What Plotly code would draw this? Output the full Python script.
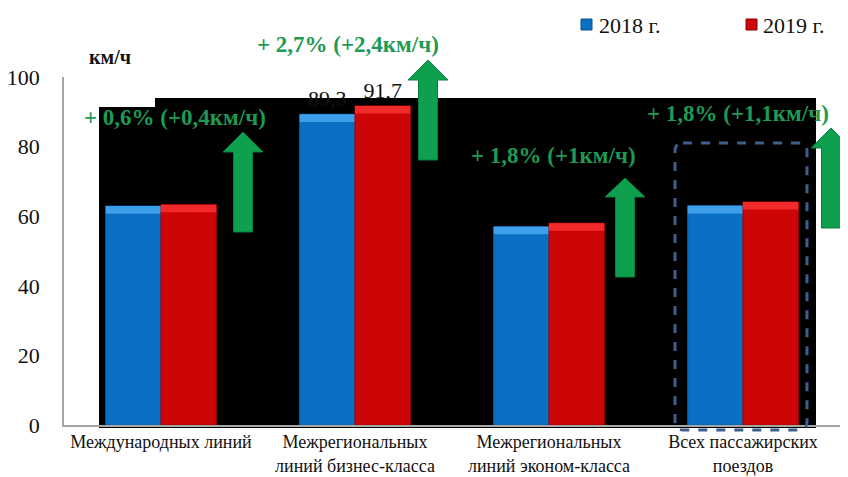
import plotly.graph_objects as go

categories = ['Международных линий',
              'Межрегиональных<br>линий бизнес-класса',
              'Межрегиональных<br>линий эконом-класса',
              'Всех пассажирских<br>поездов']
v2018 = [62.9, 89.3, 57.0, 63.0]
v2019 = [63.3, 91.7, 58.0, 64.1]
labels2018 = ['', '89,3', '', '']
labels2019 = ['', '91,7', '', '']
series_names = ['2018 г.', '2019 г.']
growth_texts = ['+ 0,6% (+0,4км/ч)', '+ 2,7% (+2,4км/ч)', '+ 1,8% (+1км/ч)', '+ 1,8% (+1,1км/ч)']
y_ticks = [0, 20, 40, 60, 80, 100]

# page body has an 8px margin: the figure starts at (8, 8) in the window
OFF = 8
WIN_W, WIN_H = 848, 477
W, H = WIN_W - OFF, WIN_H - OFF
# plot area in window pixels: x 64..840, y 77..425
PX0, PX1, PY0, PY1 = 64, 840, 77, 425
L, R, T, B = PX0 - OFF, W - (PX1 - OFF), PY0 - OFF, H - (PY1 - OFF)
PW, PH = PX1 - PX0, PY1 - PY0


def px(x):
    return (x - PX0) / PW


def py(y):
    return (PY1 - y) / PH


SERIF = 'Liberation Serif, Times New Roman, serif'
BLUE = '#0A70C4'
RED = '#CC0606'
BLUE_TOP = '#3D9EEB'
RED_TOP = '#F02A2A'
GREEN = '#0FA04F'
TXTGREEN = '#1E9A55'
BEVEL = 2.2  # bevel strip height in axis units (visual effect only)

fig = go.Figure()
for vals, labels, name, col, top, lc, grp in [
        (v2018, labels2018, series_names[0], BLUE, BLUE_TOP, '#0860A8', 'a'),
        (v2019, labels2019, series_names[1], RED, RED_TOP, '#A80000', 'b')]:
    fig.add_trace(go.Bar(x=categories, y=vals, name=name, offsetgroup=grp,
                         marker=dict(color=col, line=dict(color=lc, width=1)),
                         text=labels, textposition='outside', cliponaxis=False,
                         textfont=dict(family=SERIF, size=22, color='#111')))
    fig.add_trace(go.Bar(x=categories, y=[BEVEL] * len(vals), base=[v - BEVEL for v in vals],
                         offsetgroup=grp, showlegend=False, hoverinfo='skip',
                         marker=dict(color=top, line=dict(width=0))))

shapes = []
# black backdrop
pts = [(99, 428), (99, 107), (155, 107), (155, 98), (816, 98), (816, 428)]
path = 'M ' + ' L '.join(f'{px(a):.5f},{py(b):.5f}' for a, b in pts) + ' Z'
shapes.append(dict(type='path', xref='paper', yref='paper', path=path, fillcolor='black',
                   line=dict(width=0), layer='below'))


def arrow(cx, tip, base, bottom, sw=19, hw=40):
    p = [(cx - sw / 2, bottom), (cx - sw / 2, base), (cx - hw / 2, base), (cx, tip),
         (cx + hw / 2, base), (cx + sw / 2, base), (cx + sw / 2, bottom)]
    return dict(type='path', xref='paper', yref='paper',
                path='M ' + ' L '.join(f'{px(a):.5f},{py(b):.5f}' for a, b in p) + ' Z',
                fillcolor=GREEN, line=dict(color='#08803C', width=1), layer='above')


for a in [(243, 132, 152, 232), (428, 60, 80, 160), (625, 178, 197, 277), (831, 128, 148, 228)]:
    shapes.append(arrow(*a))

# dashed rounded rectangle
x0, x1, y0, y1, r = 675, 807, 143, 430, 8
rp = (f'M {px(x0 + r)},{py(y0)} L {px(x1 - r)},{py(y0)} Q {px(x1)},{py(y0)} {px(x1)},{py(y0 + r)} '
      f'L {px(x1)},{py(y1 - r)} Q {px(x1)},{py(y1)} {px(x1 - r)},{py(y1)} '
      f'L {px(x0 + r)},{py(y1)} Q {px(x0)},{py(y1)} {px(x0)},{py(y1 - r)} '
      f'L {px(x0)},{py(y0 + r)} Q {px(x0)},{py(y0)} {px(x0 + r)},{py(y0)} Z')
shapes.append(dict(type='path', xref='paper', yref='paper', path=rp,
                   line=dict(color='#3F5E8C', width=3, dash='dash'), layer='above'))

# legend squares
shapes.append(dict(type='rect', xref='paper', yref='paper', x0=px(581), x1=px(592), y0=py(30), y1=py(19),
                   fillcolor=BLUE, line=dict(color='#084E8A', width=1)))
shapes.append(dict(type='rect', xref='paper', yref='paper', x0=px(746), x1=px(757), y0=py(30), y1=py(19),
                   fillcolor=RED, line=dict(color='#8A0000', width=1)))

annotations = []
for txt, (x, y) in zip(growth_texts, [(175, 117), (348, 45), (553, 155), (738, 113)]):
    annotations.append(dict(text=f'<b>{txt}</b>', x=px(x), y=py(y), xref='paper', yref='paper',
                            showarrow=False, xanchor='center', yanchor='middle',
                            font=dict(family=SERIF, size=23, color=TXTGREEN)))
for txt, x in zip(series_names, [597, 761]):
    annotations.append(dict(text=txt, x=px(x), y=py(25), xref='paper', yref='paper', showarrow=False,
                            xanchor='left', yanchor='middle', font=dict(family=SERIF, size=22, color='#111')))
annotations.append(dict(text='<b>км/ч</b>', x=px(110), y=py(57), xref='paper', yref='paper', showarrow=False,
                        xanchor='center', yanchor='middle', font=dict(family=SERIF, size=20, color='#111')))

fig.update_layout(
    width=W, height=H, margin=dict(l=L, r=R, t=T, b=B, pad=0, autoexpand=False),
    paper_bgcolor='white', plot_bgcolor='rgba(0,0,0,0)',
    barmode='group', bargap=0.43, bargroupgap=0,
    showlegend=False, shapes=shapes, annotations=annotations,
    font=dict(family=SERIF, color='#111'),
    xaxis=dict(showgrid=False, showline=True, linecolor='#A6A6A6', linewidth=1.5, automargin=False,
               tickfont=dict(family=SERIF, size=18, color='#111'), ticks=''),
    yaxis=dict(range=[0, 100], tickvals=y_ticks, showgrid=False, showline=True, linecolor='#A6A6A6',
               linewidth=1.5, zeroline=False, ticks='', ticklabelstandoff=18, automargin=False,
               tickfont=dict(family=SERIF, size=22, color='#111')),
)

fig.write_html('out.html')
